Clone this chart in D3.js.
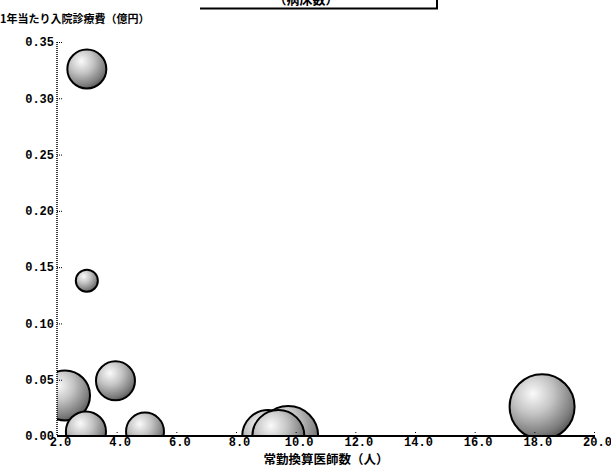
<!DOCTYPE html>
<html><head><meta charset="utf-8">
<script src="https://cdn.jsdelivr.net/npm/d3@7"></script>
<style>
html,body{margin:0;padding:0;background:#fff;}
svg{display:block;}
</style>
</head><body>
<svg id="c" width="611" height="468"></svg>
<script>
// ---- data ----
const doctors = [2.27, 2.97, 4.95, 3.96, 3.0, 3.0, 9.75, 9.08, 9.42, 18.26];
const inpatientCost = [0.036, 0.004, 0.004, 0.049, 0.326, 0.138, 0.0, 0.0, 0.0, 0.026];
const bubbleSize = [59, 38, 34, 36, 36, 11.5, 85, 64, 64, 100];
const xTicks = [2, 4, 6, 8, 10, 12, 14, 16, 18, 20];
const yTicks = [0, 0.05, 0.10, 0.15, 0.20, 0.25, 0.30, 0.35];
const yTitle = "1年当たり入院診療費（億円）";
const xTitle = "常勤換算医師数（人）";
const boxTitle = "（病床数）";

const svg = d3.select("#c");
const L = 57, R = 594, T = 42, B = 436;
const x = d3.scaleLinear().domain([2, 20]).range([L, R]);
const y = d3.scaleLinear().domain([0, 0.35]).range([B, T]);
const r = d3.scaleSqrt().domain([0, 100]).range([0, 32.5]);

const defs = svg.append("defs");
const g = defs.append("radialGradient").attr("id", "sph")
  .attr("cx", "0.36").attr("cy", "0.30").attr("r", "0.78");
g.append("stop").attr("offset", "0").attr("stop-color", "#fafafa");
g.append("stop").attr("offset", "0.4").attr("stop-color", "#c4c4c4");
g.append("stop").attr("offset", "0.8").attr("stop-color", "#7c7c7c");
g.append("stop").attr("offset", "1").attr("stop-color", "#4a4a4a");
defs.append("clipPath").attr("id", "plot").append("rect")
  .attr("x", L).attr("y", T - 2).attr("width", R - L).attr("height", B - T + 2);

// top box (cut off at the page edge, as in the reference)
svg.append("text").attr("x", 306).attr("y", 4).attr("text-anchor", "middle")
  .attr("font-family", "Noto Sans CJK JP").attr("font-weight", "bold")
  .attr("font-size", 13).text(boxTitle);
svg.append("path").attr("d", `M200,8.5 H437 V0`).attr("fill", "none")
  .attr("stroke", "#000").attr("stroke-width", 2);

// y title
svg.append("text").attr("x", 0).attr("y", 23)
  .attr("font-family", "Noto Sans CJK JP").attr("font-weight", "bold")
  .attr("font-size", 11).attr("fill", "#000").text(yTitle);

// bubbles
const pts = doctors.map((d, i) => ({x: d, y: inpatientCost[i], s: bubbleSize[i]}));
svg.append("g").attr("clip-path", "url(#plot)")
  .selectAll("circle").data(pts).join("circle")
  .attr("cx", d => x(d.x)).attr("cy", d => y(d.y)).attr("r", d => r(d.s))
  .attr("fill", "url(#sph)").attr("stroke", "#000").attr("stroke-width", 2);

// y axis
const yAxis = d3.axisRight(y).tickValues(yTicks).tickSize(6).tickFormat(d3.format(".2f"));
const ya = svg.append("g").attr("transform", `translate(${L},0)`).call(yAxis);
ya.select(".domain").remove();
ya.selectAll(".tick line").attr("stroke", "#000").attr("stroke-dasharray", "1,1");
ya.selectAll(".tick text").attr("x", -3).attr("text-anchor", "end")
  .attr("font-family", "Liberation Mono").attr("font-weight", "bold")
  .attr("font-size", 12).attr("fill", "#000");
svg.append("line").attr("x1", L).attr("x2", L).attr("y1", T).attr("y2", B)
  .attr("stroke", "#000").attr("stroke-width", 1.5).attr("stroke-dasharray", "1,1");

// x axis
const xAxis = d3.axisBottom(x).tickValues(xTicks).tickSize(-5).tickFormat(d3.format(".1f"));
const xa = svg.append("g").attr("transform", `translate(0,${B})`).call(xAxis);
xa.select(".domain").remove();
xa.selectAll(".tick line").attr("stroke", "#000").attr("stroke-dasharray", "1,2");
xa.selectAll(".tick text").attr("y", 1).attr("dx", 3)
  .attr("font-family", "Liberation Mono").attr("font-weight", "bold")
  .attr("font-size", 12).attr("fill", "#000");
svg.append("line").attr("x1", L).attr("x2", R + 1).attr("y1", B).attr("y2", B)
  .attr("stroke", "#000").attr("stroke-width", 2);

// x title
svg.append("text").attr("x", 326).attr("y", 464).attr("text-anchor", "middle")
  .attr("font-family", "Noto Sans CJK JP").attr("font-weight", "bold")
  .attr("font-size", 12.5).attr("fill", "#000").text(xTitle);
</script>
</body></html>
